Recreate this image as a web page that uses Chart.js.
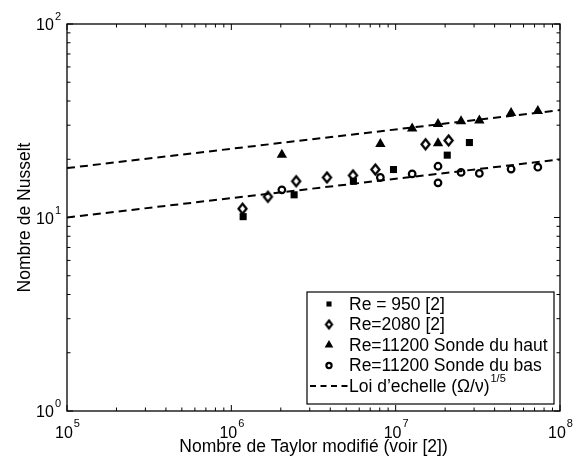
<!DOCTYPE html>
<html>
<head>
<meta charset="utf-8">
<script src="https://cdn.jsdelivr.net/npm/chart.js"></script>
<style>
  html, body { margin: 0; padding: 0; background: #fff; }
  #c { display: block; }
</style>
</head>
<body>
<canvas id="c" width="581" height="460"></canvas>
<script>
// Re = 950 [2]
const re950Ta = [1.18e6, 2.41e6, 5.53e6, 9.7e6, 2.06e7, 2.81e7];
const re950Nu = [10.1, 13.1, 15.4, 17.7, 21.0, 24.4];

// Re = 2080 [2]
const re2080Ta = [1.17e6, 1.67e6, 2.48e6, 3.82e6, 5.50e6, 7.52e6, 1.52e7, 2.10e7];
const re2080Nu = [11.1, 12.8, 15.4, 16.1, 16.5, 17.7, 23.9, 25.0];

// Re = 11200, upper and lower probe
const re11200Ta = [2.03e6, 8.07e6, 1.26e7, 1.81e7, 1.81e7, 2.50e7, 3.23e7, 5.04e7, 7.33e7];
const hautNu = [21.1, 24.0, 28.8, 30.4, 24.2, 31.4, 31.7, 34.7, 35.5];
const basNu = [13.9, 16.1, 16.8, 18.4, 15.1, 17.1, 16.9, 17.8, 18.2];

// scaling law lines (end points)
const loiTa = [1e5, 1e8];
const loiHaut = [18, 35.9];
const loiBas = [10, 19.95];

// axis ticks
const xTicks = [1e5, 1e6, 1e7, 1e8];
const xExp = ['5', '6', '7', '8'];
const yTicks = [1, 10, 100];
const yExp = ['0', '1', '2'];

const labels = {
  re950: 'Re = 950 [2]',
  re2080: 'Re=2080 [2]',
  haut: 'Re=11200 Sonde du haut',
  bas: 'Re=11200 Sonde du bas',
  loi: 'Loi d\u2019echelle (\u03A9/\u03BD)'
};

const FONT = '"Liberation Sans", Arial, Helvetica, sans-serif';

function pts(xs, ys) {
  return xs.map((x, i) => ({ x: x, y: ys[i] }));
}

// open diamond, a bit taller than wide (matlab 'd')
function diamond(w, h, lw) {
  const c = document.createElement('canvas');
  c.width = Math.ceil(w + lw * 2); c.height = Math.ceil(h + lw * 2);
  const g = c.getContext('2d');
  const cx = c.width / 2, cy = c.height / 2;
  g.beginPath();
  g.moveTo(cx, cy - h / 2); g.lineTo(cx + w / 2, cy);
  g.lineTo(cx, cy + h / 2); g.lineTo(cx - w / 2, cy);
  g.closePath();
  g.fillStyle = '#fff'; g.fill();
  g.lineWidth = lw; g.strokeStyle = '#000'; g.stroke();
  return c;
}
const diamondBig = diamond(8, 10, 2.3);
const diamondSmall = diamond(6, 8, 2.2);

const datasets = [
  {
    label: labels.loi, data: pts(loiTa, loiHaut), showLine: true,
    borderColor: '#000', borderWidth: 2, borderDash: [8, 5], pointRadius: 0
  },
  {
    label: labels.loi, data: pts(loiTa, loiBas), showLine: true,
    borderColor: '#000', borderWidth: 2, borderDash: [8, 5], pointRadius: 0
  },
  {
    label: labels.re950, data: pts(re950Ta, re950Nu), showLine: false,
    pointStyle: 'rect', pointRadius: 5, pointBackgroundColor: '#000', pointBorderColor: '#000', pointBorderWidth: 0,
    legendStyle: 'rect', legendRadius: 3.6
  },
  {
    label: labels.re2080, data: pts(re2080Ta, re2080Nu), showLine: false,
    pointStyle: diamondBig, pointRadius: 5,
    legendStyle: diamondSmall, legendRadius: 4
  },
  {
    label: labels.haut, data: pts(re11200Ta, hautNu), showLine: false,
    pointStyle: 'triangle', pointRadius: 6, pointBackgroundColor: '#000', pointBorderColor: '#000', pointBorderWidth: 0,
    legendStyle: 'triangle', legendRadius: 5
  },
  {
    label: labels.bas, data: pts(re11200Ta, basNu), showLine: false,
    pointStyle: 'circle', pointRadius: 3.3, pointBackgroundColor: '#fff', pointBorderColor: '#000', pointBorderWidth: 2.2,
    legendStyle: 'circle', legendRadius: 2.6
  }
];

// frame, ticks inside on all sides, labels with exponents, axis titles
const axesPlugin = {
  id: 'matlabAxes',
  afterDraw(chart) {
    const ctx = chart.ctx;
    const a = chart.chartArea;
    const xs = chart.scales.x, ys = chart.scales.y;
    ctx.save();
    ctx.strokeStyle = '#000';
    ctx.lineWidth = 1.3;
    ctx.strokeRect(a.left, a.top, a.right - a.left, a.bottom - a.top);

    function tickX(v, len) {
      const px = xs.getPixelForValue(v);
      ctx.beginPath();
      ctx.moveTo(px, a.bottom); ctx.lineTo(px, a.bottom - len);
      ctx.moveTo(px, a.top); ctx.lineTo(px, a.top + len);
      ctx.stroke();
    }
    function tickY(v, len) {
      const py = ys.getPixelForValue(v);
      ctx.beginPath();
      ctx.moveTo(a.left, py); ctx.lineTo(a.left + len, py);
      ctx.moveTo(a.right, py); ctx.lineTo(a.right - len, py);
      ctx.stroke();
    }
    ctx.lineWidth = 1;
    xTicks.forEach((t, i) => {
      tickX(t, 6);
      if (i < xTicks.length - 1) for (let m = 2; m <= 9; m++) tickX(t * m, 3.5);
    });
    yTicks.forEach((t, i) => {
      tickY(t, 6);
      if (i < yTicks.length - 1) for (let m = 2; m <= 9; m++) tickY(t * m, 3.5);
    });

    ctx.fillStyle = '#000';
    ctx.textBaseline = 'alphabetic';
    const baseFont = '16px ' + FONT, expFont = '11px ' + FONT;
    xTicks.forEach((t, i) => {
      const px = xs.getPixelForValue(t);
      ctx.font = baseFont; const w1 = ctx.measureText('10').width;
      ctx.font = expFont; const w2 = ctx.measureText(xExp[i]).width;
      const x0 = px - (w1 + w2) / 2;
      ctx.font = baseFont; ctx.textAlign = 'left';
      ctx.fillText('10', x0, a.bottom + 27);
      ctx.font = expFont;
      ctx.fillText(xExp[i], x0 + w1 + 1, a.bottom + 16);
    });
    yTicks.forEach((t, i) => {
      const py = ys.getPixelForValue(t);
      ctx.font = expFont; const w2 = ctx.measureText(yExp[i]).width;
      ctx.textAlign = 'right';
      ctx.fillText(yExp[i], a.left - 6, py - 4);
      ctx.font = baseFont;
      ctx.fillText('10', a.left - 6 - w2 - 1, py + 6);
    });

    ctx.font = '17.5px ' + FONT;
    ctx.textAlign = 'center';
    ctx.fillText('Nombre de Taylor modifi\u00e9 (voir [2])', (a.left + a.right) / 2, a.bottom + 41);
    ctx.save();
    ctx.translate(30, (a.top + a.bottom) / 2);
    ctx.rotate(-Math.PI / 2);
    ctx.fillText('Nombre de Nusselt', 0, 0);
    ctx.restore();
    ctx.restore();
  }
};

// boxed legend inside the lower right corner
const legendPlugin = {
  id: 'boxLegend',
  afterDatasetsDraw(chart) {
    const ctx = chart.ctx;
    const box = { left: 307, top: 292, right: 554, bottom: 404 };
    const order = [2, 3, 4, 5, 0];
    ctx.save();
    ctx.fillStyle = '#fff';
    ctx.fillRect(box.left, box.top, box.right - box.left, box.bottom - box.top);
    ctx.strokeStyle = '#000';
    ctx.lineWidth = 1.2;
    ctx.strokeRect(box.left, box.top, box.right - box.left, box.bottom - box.top);

    const rowH = 20.5, y0 = box.top + 12, mx = 329, tx = 349;
    ctx.textBaseline = 'middle';
    ctx.textAlign = 'left';
    order.forEach((di, r) => {
      const ds = chart.data.datasets[di];
      const y = y0 + r * rowH;
      if (ds.pointRadius === 0) {
        ctx.strokeStyle = '#000';
        ctx.lineWidth = 2;
        ctx.setLineDash([6, 4.5]);
        ctx.beginPath(); ctx.moveTo(box.left + 3, y); ctx.lineTo(tx - 1, y); ctx.stroke();
        ctx.setLineDash([]);
      } else {
        ctx.fillStyle = ds.pointBackgroundColor || '#000';
        ctx.strokeStyle = ds.pointBorderColor || '#000';
        ctx.lineWidth = ds.pointBorderWidth || 0;
        Chart.helpers.drawPoint(ctx, {
          pointStyle: ds.legendStyle, radius: ds.legendRadius, rotation: 0,
          borderWidth: ds.pointBorderWidth || 0
        }, mx, y);
      }
      ctx.fillStyle = '#000';
      ctx.font = '17.5px ' + FONT;
      ctx.fillText(ds.label, tx, y + 1);
      if (di === 0) {
        const w = ctx.measureText(ds.label).width;
        ctx.font = '11px ' + FONT;
        ctx.fillText('1/5', tx + w + 1, y - 7);
      }
    });
    ctx.restore();
  }
};

new Chart(document.getElementById('c'), {
  type: 'scatter',
  data: { datasets: datasets },
  options: {
    responsive: false,
    animation: false,
    events: [],
    layout: { padding: { left: 67, top: 24, right: 21, bottom: 49 } },
    plugins: { legend: { display: false }, tooltip: { enabled: false } },
    scales: {
      x: { type: 'logarithmic', min: 1e5, max: 1e8, display: false },
      y: { type: 'logarithmic', min: 1, max: 100, display: false }
    }
  },
  plugins: [legendPlugin, axesPlugin]
});
</script>
</body>
</html>
